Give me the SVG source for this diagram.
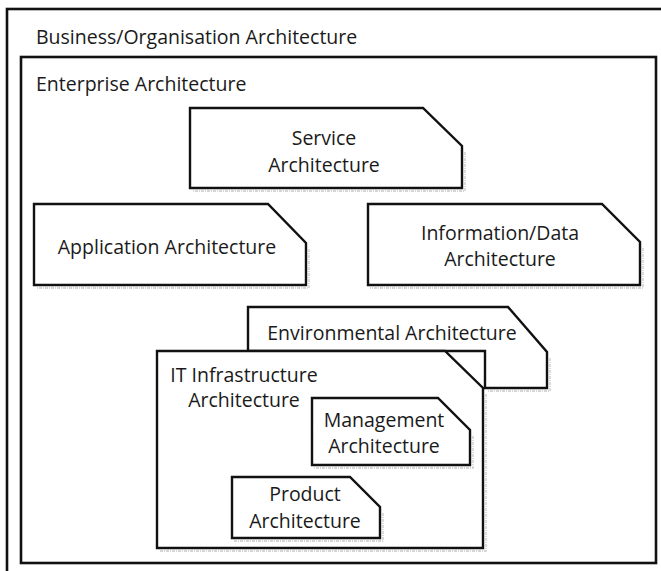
<svg xmlns="http://www.w3.org/2000/svg" width="661" height="571" viewBox="0 0 661 571">
  <style>
    .box { fill: #ffffff; stroke: #111111; stroke-width: 2.4; stroke-linejoin: miter; }
    .frame { fill: #ffffff; stroke: #111111; stroke-width: 2.6; }
    .shadow { fill: none; stroke: #c8c8c8; stroke-width: 1.3; stroke-dasharray: 3 1 1 1; }
    .lbl { font-family: "Open Sans", "Noto Sans", "DejaVu Sans", sans-serif; font-size: 19.5px; fill: #1a1a1a; }
    .c { text-anchor: middle; }
  </style>
  <rect width="661" height="571" fill="#ffffff"/>

  <g id="business">
    <rect class="frame" x="7" y="9" width="670" height="580"/>
    <text class="lbl" x="36" y="44">Business/Organisation Architecture</text>
  </g>

  <g id="enterprise">
    <rect class="frame" x="21" y="57" width="635" height="506"/>
    <text class="lbl" x="36" y="91">Enterprise Architecture</text>
  </g>

  <g id="connectors"></g>

  <g id="service">
    <polyline class="shadow" points="465,152 465,191 192,191"/>
    <polygon class="box" points="190,108 423,108 462,146 462,188 190,188"/>
    <text class="lbl c" x="324" y="145">Service</text>
    <text class="lbl c" x="324" y="172">Architecture</text>
  </g>

  <g id="application">
    <polyline class="shadow" points="309,249 309,288 36,288"/>
    <polygon class="box" points="34,204 268,204 306,243 306,285 34,285"/>
    <text class="lbl c" x="167" y="254">Application Architecture</text>
  </g>

  <g id="information">
    <polyline class="shadow" points="643,248 643,288 370,288"/>
    <polygon class="box" points="368,204 602,204 640,242 640,285 368,285"/>
    <text class="lbl c" x="500" y="240">Information/Data</text>
    <text class="lbl c" x="500" y="266">Architecture</text>
  </g>

  <g id="environmental">
    <polyline class="shadow" points="550,358 550,391 488,391"/>
    <polygon class="box" points="248,307 508,307 547,352 547,388 485,388 485,351 248,351"/>
    <text class="lbl c" x="392" y="340">Environmental Architecture</text>
  </g>

  <g id="it-infrastructure">
    <polyline class="shadow" points="486,394 486,551 159,551"/>
    <polygon class="box" points="157,351 445,351 483,388 483,548 157,548"/>
    <text class="lbl c" x="244" y="382">IT Infrastructure</text>
    <text class="lbl c" x="244" y="407">Architecture</text>
  </g>

  <g id="management">
    <polyline class="shadow" points="473,436 473,468 314,468"/>
    <polygon class="box" points="312,398 438,398 470,430 470,465 312,465"/>
    <text class="lbl c" x="384" y="427">Management</text>
    <text class="lbl c" x="384" y="453">Architecture</text>
  </g>

  <g id="product">
    <polyline class="shadow" points="383,513 383,541 234,541"/>
    <polygon class="box" points="232,477 350,477 380,507 380,538 232,538"/>
    <text class="lbl c" x="305" y="501">Product</text>
    <text class="lbl c" x="305" y="528">Architecture</text>
  </g>
</svg>
